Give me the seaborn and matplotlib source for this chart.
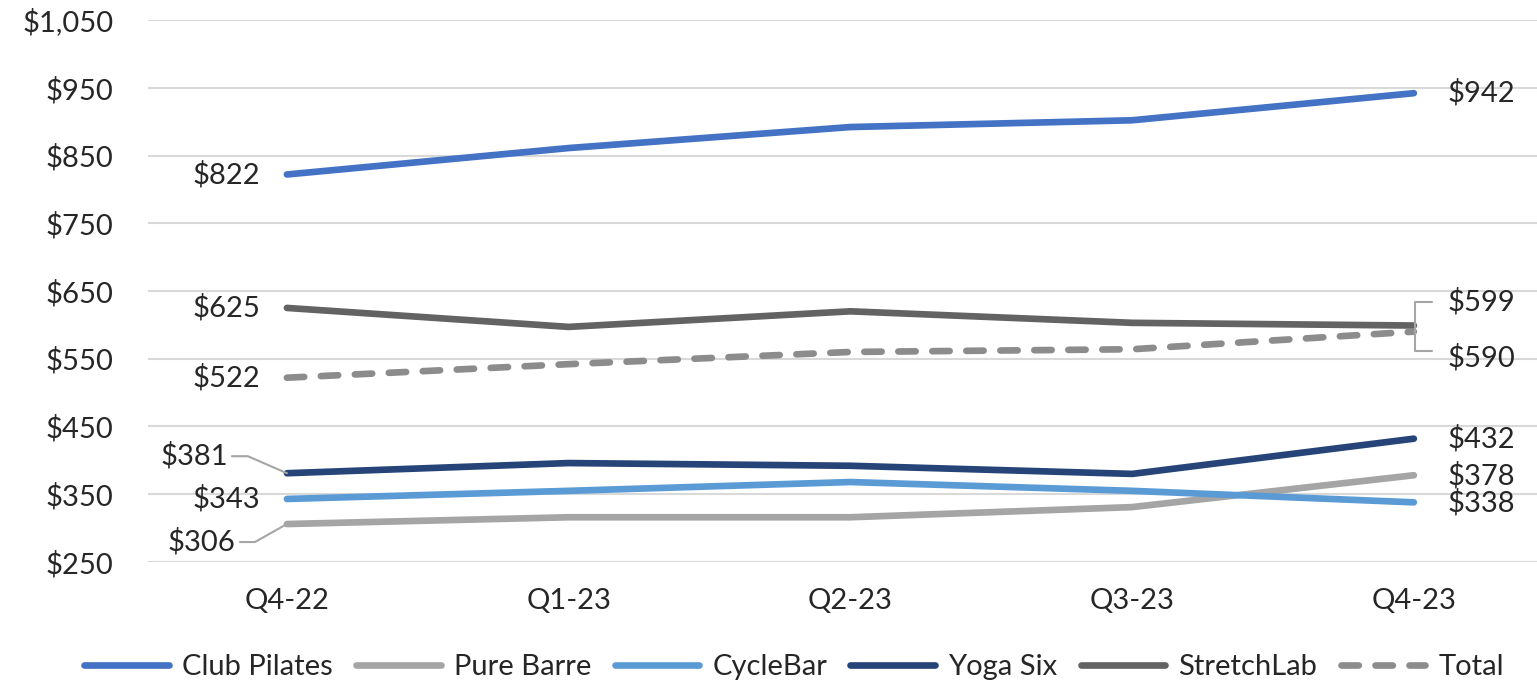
import matplotlib
matplotlib.use("Agg")
import matplotlib.pyplot as plt
from matplotlib.lines import Line2D
from matplotlib.transforms import IdentityTransform
import seaborn as sns
import pandas as pd

quarters = ["Q4-22", "Q1-23", "Q2-23", "Q3-23", "Q4-23"]
club_pilates = [822, 861, 892, 902, 942]
pure_barre = [306, 316, 316, 331, 378]
cyclebar = [343, 355, 368, 355, 338]
yoga_six = [381, 396, 392, 380, 432]
stretchlab = [625, 597, 620, 603, 599]
total = [522, 542, 560, 564, 590]

brands = ["Club Pilates", "Pure Barre", "CycleBar", "Yoga Six", "StretchLab", "Total"]
series = [club_pilates, pure_barre, cyclebar, yoga_six, stretchlab, total]
colors = ["#4472C4", "#A5A5A5", "#5B9BD5", "#264478", "#636363", "#8C8C8C"]

rows = []
for b, vals in zip(brands, series):
    for i, v in enumerate(vals):
        rows.append({"brand": b, "x": i, "value": v})
df = pd.DataFrame(rows)

sns.set_style("white")
plt.rcParams["font.family"] = ["Lato", "DejaVu Sans"]
FS = 21

fig = plt.figure(figsize=(15.37, 6.83), dpi=100)
ax = fig.add_axes([0.0963, 0.1772, 0.9037, 0.7935])

dash_map = {b: "" for b in brands}
dash_map["Total"] = (2.6, 2.5)
sns.lineplot(data=df, x="x", y="value", hue="brand", style="brand",
             hue_order=brands, style_order=brands,
             palette=dict(zip(brands, colors)), dashes=dash_map,
             linewidth=4.8, ax=ax, legend=False)
for ln in ax.lines:
    ln.set_solid_capstyle("round")
    ln.set_dash_capstyle("round")

ax.set_xlim(-0.493, 4.437)
ax.set_ylim(250, 1050)
ax.set_yticks(range(250, 1051, 100))
ax.set_yticklabels(["${:,}".format(v) for v in range(250, 1051, 100)])
ax.set_xticks(range(len(quarters)))
ax.set_xticklabels(quarters)
ax.tick_params(axis="both", labelsize=FS, colors="#262626", length=0)
ax.tick_params(axis="y", pad=25)
ax.tick_params(axis="x", pad=19)
ax.yaxis.grid(True, color="#D9D9D9", linewidth=1.5)
for s in ax.spines.values():
    s.set_visible(False)
ax.set_xlabel("")
ax.set_ylabel("")

fig.canvas.draw()

def disp(x, y):
    return ax.transData.transform((x, y))

def leader(x, y, pts):
    px, py = disp(x, y)
    xs = [px + dx for dx, dy in pts]
    ys = [py + dy for dx, dy in pts]
    fig.add_artist(Line2D(xs, ys, transform=IdentityTransform(), color="#A5A5A5", lw=1.5))

def label(x, y, dx, dy, ha):
    ax.annotate("${:,}".format(y), (x, y), xytext=(dx, dy), textcoords="offset pixels",
                ha=ha, va="center", fontsize=FS, color="#262626")

# left side labels
for vals in [club_pilates, stretchlab, total, cyclebar]:
    label(0, vals[0], -27, 0, "right")
label(0, yoga_six[0], -59, 17, "right")
leader(0, yoga_six[0], [(-55, 17), (-39, 17), (0, 0)])
label(0, pure_barre[0], -52, -18, "right")
leader(0, pure_barre[0], [(-47, -18), (-32, -18), (0, 0)])

# right side labels
for vals in [club_pilates, yoga_six, pure_barre, cyclebar]:
    label(4, vals[-1], 34, 0, "left")
label(4, stretchlab[-1], 34, 24, "left")
label(4, total[-1], 34, -26, "left")
leader(4, stretchlab[-1], [(18, 24), (1, 24), (1, -25), (18, -25)])

handles = [Line2D([], [], color=c, lw=4.8, solid_capstyle="round", dash_capstyle="round",
                  linestyle=(0, (2.6, 2.5)) if b == "Total" else "-")
           for b, c in zip(brands, colors)]
fig.legend(handles, brands, loc="lower center", bbox_to_anchor=(0.5166, -0.034), ncol=6,
           frameon=False, fontsize=FS, handlelength=2.9, handletextpad=0.45, columnspacing=0.8)

fig.savefig("out.png", dpi=100)
